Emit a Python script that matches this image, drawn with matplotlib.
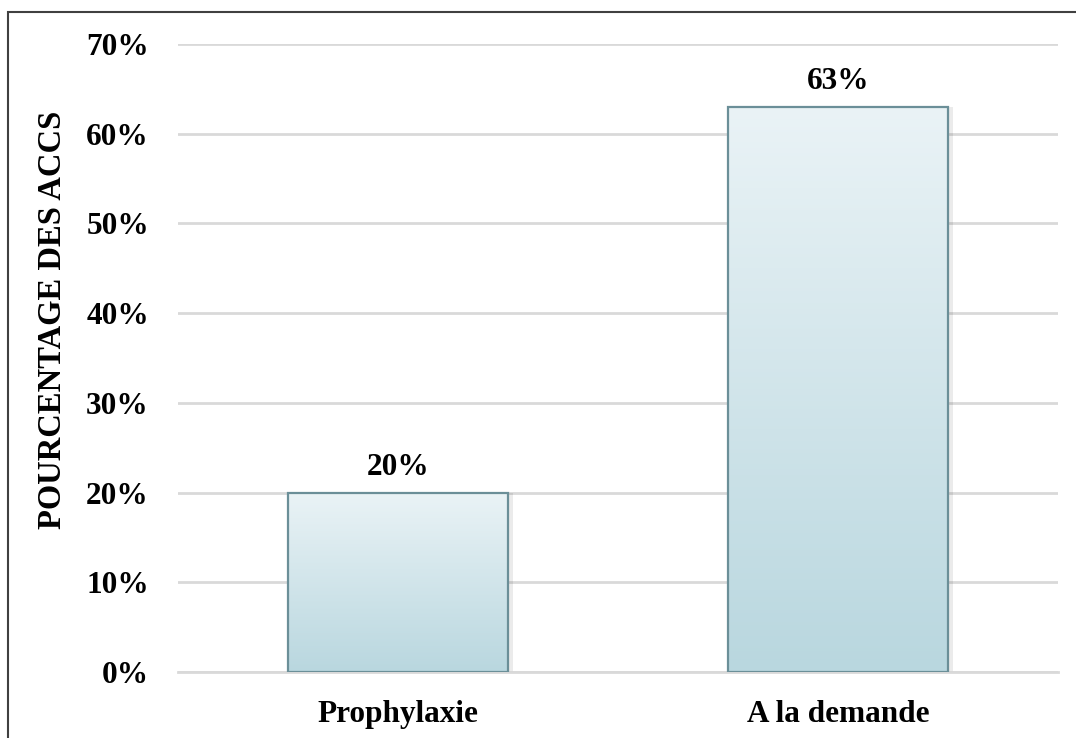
import numpy as np
import matplotlib
matplotlib.use("Agg")
import matplotlib.pyplot as plt
from matplotlib.patches import Rectangle
from matplotlib.colors import LinearSegmentedColormap
from matplotlib.ticker import FuncFormatter

categories = ["Prophylaxie", "A la demande"]
values = [20, 63]
yticks = [0, 10, 20, 30, 40, 50, 60, 70]

plt.rcParams["font.family"] = ["Liberation Serif", "DejaVu Serif"]
plt.rcParams["font.weight"] = "bold"

W, H = 1076, 738
fig = plt.figure(figsize=(W / 100, H / 100), dpi=100)
ax = fig.add_axes([178 / W, 1 - 672 / H, 880 / W, (672 - 44) / H])

x = np.arange(len(categories))
bars = ax.bar(x, values, width=0.5, color="none", edgecolor="#6b8f98",
              linewidth=1.6, zorder=4)

cmap = LinearSegmentedColormap.from_list("bar", ["#b9d7df", "#eaf3f6"])
grad = np.linspace(0, 1, 256).reshape(-1, 1)
for b, v in zip(bars, values):
    x0 = b.get_x()
    w = b.get_width()
    # soft shadow on the right
    ax.add_patch(Rectangle((x0 + 0.012, 0), w, v, facecolor="#000000",
                           alpha=0.08, edgecolor="none", zorder=2))
    im = ax.imshow(grad, cmap=cmap, aspect="auto", origin="lower",
                   extent=[x0, x0 + w, 0, v], zorder=3)
    clip = Rectangle((x0, 0), w, v, transform=ax.transData)
    im.set_clip_path(clip)
    ax.text(b.get_x() + w / 2, v + 1.2, f"{v}%", ha="center", va="bottom",
            fontsize=22.5, fontweight="bold", zorder=5)

ax.set_xlim(-0.5, 1.5)
ax.set_ylim(0, 70)
ax.set_yticks(yticks)
ax.yaxis.set_major_formatter(FuncFormatter(lambda v, p: f"{int(v)}%"))
ax.set_xticks(x)
ax.set_xticklabels(categories)
ax.tick_params(axis="both", length=0, labelsize=22.5)
ax.tick_params(axis="x", pad=20)
ax.tick_params(axis="y", pad=21)
for lab in ax.get_xticklabels() + ax.get_yticklabels():
    lab.set_fontweight("bold")

ax.yaxis.grid(True, color="#d9d9d9", linewidth=2, zorder=0)
ax.set_axisbelow(True)
for s in ["top", "right", "left"]:
    ax.spines[s].set_visible(False)
ax.spines["bottom"].set_color("#d9d9d9")
ax.spines["bottom"].set_linewidth(2)

fig.text(53 / W, 1 - 320 / H, "POURCENTAGE DES ACCS", rotation=90,
         ha="center", va="center", fontsize=23.5, fontweight="bold")

fig.add_artist(Rectangle((8 / W, -0.05), 1.1, 1 - 12 / H + 0.05,
                         transform=fig.transFigure, fill=False,
                         edgecolor="#404040", linewidth=1.5))

fig.savefig("out.png", dpi=100)
